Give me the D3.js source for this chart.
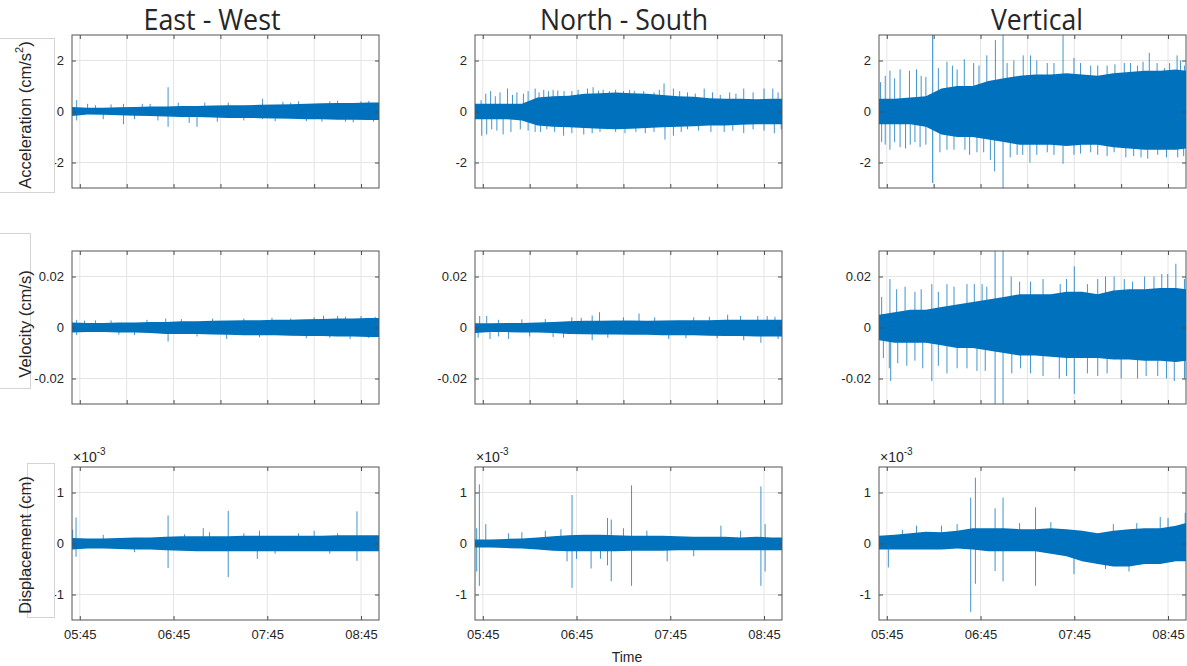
<!DOCTYPE html>
<html>
<head>
<meta charset="utf-8">
<script src="https://cdn.jsdelivr.net/npm/d3@7"></script>
<style>
  body { margin: 0; background: #fff; }
  svg { display: block; }
  text { font-family: "Liberation Sans", Arial, Helvetica, sans-serif; fill: #262626; }
</style>
</head>
<body>
<div id="chart"></div>
<script>
// component titles and row labels
const columnTitles = ["East - West", "North - South", "Vertical"];
const rowLabels = ["Acceleration (cm/s", "Velocity (cm/s)", "Displacement (cm)"];

// time axis (record runs 05:40 -> 08:56:30)
const parseTime = d3.timeParse("%H:%M:%S");
const startTime = parseTime("05:40:00");
const endTime = parseTime("08:56:30");
const gridTimes = ["05:45", "06:15", "06:45", "07:15", "07:45", "08:15", "08:45"];
const labelTimes = ["05:45", "06:45", "07:45", "08:45"];

// envelope sample times, minutes after 05:40
const sampleMinutes = [0, 10, 20, 30, 40, 50, 60, 70, 80, 90, 100, 110, 120, 130, 140, 150, 160, 170, 180, 190, 196.5];

// Acceleration (cm/s^2) - dense band envelope
const ewAccUpper = [0.18, 0.15, 0.15, 0.17, 0.18, 0.2, 0.2, 0.22, 0.22, 0.24, 0.25, 0.25, 0.26, 0.27, 0.28, 0.3, 0.32, 0.33, 0.33, 0.35, 0.35];
const ewAccLower = [-0.18, -0.12, -0.13, -0.15, -0.17, -0.18, -0.2, -0.22, -0.22, -0.24, -0.25, -0.25, -0.26, -0.27, -0.28, -0.3, -0.3, -0.32, -0.32, -0.33, -0.33];
const nsAccUpper = [0.3, 0.3, 0.3, 0.3, 0.55, 0.6, 0.62, 0.7, 0.72, 0.75, 0.72, 0.7, 0.65, 0.6, 0.58, 0.52, 0.5, 0.5, 0.48, 0.5, 0.5];
const nsAccLower = [-0.3, -0.3, -0.3, -0.35, -0.55, -0.6, -0.62, -0.65, -0.68, -0.7, -0.68, -0.65, -0.62, -0.6, -0.58, -0.55, -0.55, -0.52, -0.5, -0.5, -0.5];
const vAccUpper = [0.5, 0.5, 0.55, 0.6, 0.9, 1.0, 1.0, 1.2, 1.3, 1.4, 1.45, 1.45, 1.5, 1.45, 1.4, 1.5, 1.55, 1.6, 1.6, 1.65, 1.6];
const vAccLower = [-0.5, -0.5, -0.5, -0.6, -0.9, -1.0, -1.0, -1.1, -1.2, -1.3, -1.3, -1.3, -1.35, -1.3, -1.3, -1.4, -1.45, -1.5, -1.5, -1.5, -1.45];

// Velocity (cm/s)
const ewVelUpper = [0.002, 0.0018, 0.0018, 0.002, 0.002, 0.0022, 0.0022, 0.0025, 0.0025, 0.0026, 0.0027, 0.0028, 0.0028, 0.003, 0.003, 0.0032, 0.0033, 0.0035, 0.0035, 0.0037, 0.0037];
const ewVelLower = [-0.002, -0.0018, -0.0018, -0.002, -0.002, -0.0022, -0.0025, -0.0025, -0.0025, -0.0027, -0.0028, -0.003, -0.003, -0.003, -0.0032, -0.0033, -0.0033, -0.0035, -0.0035, -0.0037, -0.0037];
const nsVelUpper = [0.0017, 0.0017, 0.0018, 0.0018, 0.002, 0.0022, 0.0025, 0.0026, 0.0026, 0.0027, 0.0027, 0.0026, 0.0027, 0.0028, 0.0028, 0.0028, 0.003, 0.003, 0.003, 0.003, 0.003];
const nsVelLower = [-0.0022, -0.0018, -0.0018, -0.002, -0.002, -0.0022, -0.0025, -0.0026, -0.0027, -0.0027, -0.0028, -0.0028, -0.003, -0.003, -0.003, -0.0032, -0.0033, -0.0033, -0.0035, -0.0035, -0.0035];
const vVelUpper = [0.005, 0.006, 0.007, 0.007, 0.008, 0.009, 0.01, 0.011, 0.012, 0.013, 0.013, 0.013, 0.014, 0.014, 0.013, 0.0145, 0.015, 0.015, 0.0155, 0.0155, 0.015];
const vVelLower = [-0.005, -0.006, -0.006, -0.006, -0.007, -0.008, -0.008, -0.009, -0.01, -0.011, -0.011, -0.0115, -0.012, -0.012, -0.012, -0.0125, -0.0125, -0.013, -0.013, -0.0135, -0.013];

// Displacement, in units of 1e-3 cm
const ewDispUpper = [0.11, 0.1, 0.1, 0.11, 0.12, 0.12, 0.13, 0.14, 0.14, 0.14, 0.14, 0.15, 0.15, 0.15, 0.15, 0.15, 0.15, 0.16, 0.16, 0.16, 0.16];
const ewDispLower = [-0.12, -0.1, -0.1, -0.11, -0.12, -0.12, -0.13, -0.14, -0.15, -0.15, -0.15, -0.15, -0.15, -0.15, -0.15, -0.15, -0.15, -0.15, -0.15, -0.15, -0.15];
const nsDispUpper = [0.08, 0.08, 0.09, 0.1, 0.12, 0.14, 0.16, 0.17, 0.17, 0.16, 0.15, 0.15, 0.15, 0.14, 0.13, 0.13, 0.13, 0.12, 0.13, 0.12, 0.12];
const nsDispLower = [-0.08, -0.08, -0.09, -0.1, -0.12, -0.14, -0.15, -0.15, -0.15, -0.15, -0.14, -0.14, -0.14, -0.13, -0.13, -0.13, -0.13, -0.13, -0.13, -0.13, -0.13];
const vDispUpper = [0.15, 0.17, 0.2, 0.23, 0.22, 0.25, 0.3, 0.3, 0.3, 0.28, 0.28, 0.3, 0.28, 0.25, 0.2, 0.25, 0.28, 0.3, 0.3, 0.35, 0.4];
const vDispLower = [-0.12, -0.12, -0.12, -0.12, -0.12, -0.1, -0.12, -0.15, -0.15, -0.15, -0.15, -0.2, -0.25, -0.35, -0.4, -0.45, -0.45, -0.4, -0.4, -0.35, -0.35];

// spikes beyond the band: [minutes after 05:40, peak value]
const ewAccSpikes = [[3, 0.45], [3, -0.35], [10, 0.3], [15, 0.25], [20, -0.3], [25, 0.28], [33, -0.5], [33, 0.3], [40, -0.3], [45, 0.3], [50, 0.3], [55, -0.35], [61.5, 0.95], [61.5, -0.6], [68, 0.35], [75, -0.45], [80, -0.6], [85, 0.35], [93, -0.4], [100, 0.35], [110, -0.35], [122, 0.5], [122, -0.3], [130, -0.38], [135, 0.38], [140, 0.35], [145, 0.4], [150, -0.38], [160, -0.4], [165, 0.4], [170, 0.42], [175, -0.4], [180, -0.42], [185, 0.4], [190, 0.42], [193, -0.4]];
const nsAccSpikes = [[3.9, 0.45], [6.9, 0.7], [10, 0.8], [13, 0.6], [16, 0.75], [20.8, 0.9], [24, 0.65], [26.8, 0.75], [31, 0.7], [34, 0.8], [38.5, 0.9], [41, 0.75], [44, 0.85], [47, 0.8], [50, 0.85], [53, 0.82], [57, 0.8], [62, 0.8], [66, 0.85], [72, 0.9], [75.6, 0.95], [79, 0.82], [82, 0.85], [86, 0.8], [90, 0.85], [95, 0.8], [99, 0.85], [102, 0.8], [108, 0.8], [114.6, 0.75], [118, 0.85], [121, 1.1], [127, 0.9], [131, 0.8], [136, 0.75], [141, 0.7], [146.7, 0.9], [152, 0.75], [157, 0.65], [163, 0.75], [167, 0.7], [172, 0.9], [178, 0.75], [185, 0.9], [190.6, 0.9], [194, 0.75],
  [4.3, -0.95], [7.5, -0.9], [10.7, -0.7], [14, -0.75], [18, -0.9], [23, -0.8], [29, -0.7], [34, -0.75], [38.5, -0.8], [42, -0.8], [46, -0.7], [51, -0.8], [56.7, -0.95], [62, -0.85], [69.6, -0.9], [75, -0.85], [80, -0.8], [84.6, -0.7], [90, -0.8], [96, -0.85], [103, -0.8], [109, -0.85], [114.6, -0.8], [121.6, -1.1], [127, -0.95], [132, -0.8], [136, -0.7], [143, -0.75], [151, -0.8], [159.5, -0.8], [165, -0.75], [172, -0.85], [178, -0.7], [185, -0.75], [191.6, -0.85], [196, -0.7]];
const vAccSpikes = [[1, 1.15], [4, 1.4], [7, 1.6], [10, 1.3], [13.5, 1.65], [19.5, 1.6], [24, 1.65], [27, 1.4], [30, 1.35], [34.3, 3.3], [38, 1.7], [43.5, 1.95], [47, 1.8], [50, 1.65], [54.6, 2.05], [60.6, 1.9], [64, 1.8], [69, 2.2], [74.5, 2.8], [79.4, 3.3], [82, 1.9], [86.3, 2.0], [92.3, 2.2], [97, 2.2], [101, 2.0], [107.7, 1.9], [112, 1.9], [117.8, 3.3], [124.8, 2.1], [129, 1.9], [135.5, 1.8], [140, 1.8], [146, 1.8], [151, 1.85], [157, 1.9], [161, 1.9], [165.5, 1.8], [169, 1.95], [173, 2.3], [178, 1.9], [182.7, 1.7], [186, 1.9], [190.8, 2.2], [193, 2.0], [195.5, 1.8],
  [1.7, -1.2], [4, -1.3], [7, -1.5], [10, -1.2], [13.5, -1.4], [17, -1.45], [20, -1.3], [23, -1.2], [26.3, -1.4], [30, -1.3], [34.3, -2.8], [39, -1.6], [43.5, -1.5], [48, -1.5], [55, -1.5], [58, -1.7], [62.7, -1.6], [67, -1.6], [71.3, -1.9], [74, -2.35], [79.4, -3.3], [84, -1.8], [88.4, -1.7], [92, -1.7], [96.6, -2.0], [101, -1.7], [107.7, -1.6], [112, -1.7], [117.8, -2.05], [124.8, -1.7], [129, -1.65], [135.5, -1.6], [140, -1.7], [146, -1.75], [150.5, -1.6], [158, -1.8], [163, -1.75], [167.7, -1.8], [172, -1.85], [178.4, -1.7], [184, -1.8], [191.2, -1.8], [195, -1.75]];
const ewVelSpikes = [[3, 0.003], [3, -0.003], [8, 0.0027], [15, 0.0028], [25, 0.0028], [30, -0.0028], [40, -0.003], [48, 0.003], [60, 0.0035], [61.5, -0.0055], [70, 0.0033], [80, -0.0035], [90, 0.0035], [99, -0.0045], [110, 0.0035], [120, -0.0038], [128, 0.0038], [140, 0.0035], [150, -0.0042], [155, 0.004], [161, 0.0046], [165, -0.004], [170, 0.0045], [175, 0.0042], [178, -0.0045], [185, 0.0045], [190, -0.0042], [194, 0.0042]];
const nsVelSpikes = [[3, 0.0045], [7.5, 0.0045], [15, 0.003], [30, 0.0032], [45, 0.0033], [62, 0.004], [68, 0.0038], [75, 0.0047], [79.7, 0.006], [95, 0.004], [105, 0.0055], [115, 0.004], [140, 0.004], [150, 0.0042], [161.7, 0.005], [170, 0.0045], [181, 0.0045], [187, 0.0045], [192, 0.0042],
  [2, -0.004], [9.6, -0.0045], [15, -0.0035], [21.4, -0.0045], [35, -0.0035], [50, -0.0037], [56.7, -0.004], [75, -0.005], [85, -0.004], [124, -0.0045], [135, -0.0042], [155, -0.0042], [172, -0.005], [183, -0.006], [194, -0.0045]];
const vVelSpikes = [[1.7, 0.012], [7, 0.019], [11.3, 0.015], [16.7, 0.016], [23, 0.014], [27, 0.015], [33.8, 0.017], [38, 0.014], [43.5, 0.017], [48, 0.016], [56.3, 0.017], [61, 0.017], [66, 0.017], [69, 0.016], [74.3, 0.035], [79.4, 0.035], [84.6, 0.02], [90, 0.018], [97, 0.018], [105, 0.019], [116, 0.017], [120, 0.019], [125, 0.024], [133.4, 0.017], [140, 0.019], [145, 0.02], [150.5, 0.02], [157, 0.019], [162.3, 0.018], [170, 0.02], [176, 0.02], [181, 0.021], [184.8, 0.021], [190, 0.025], [195.5, 0.019],
  [2.8, -0.012], [6.6, -0.016], [7.5, -0.021], [12, -0.014], [17.8, -0.015], [23, -0.013], [28, -0.016], [33.8, -0.021], [38, -0.015], [43.5, -0.018], [50, -0.016], [56.3, -0.016], [62.7, -0.017], [68, -0.017], [74.3, -0.035], [79.4, -0.035], [85, -0.018], [90.6, -0.016], [97, -0.018], [105, -0.019], [115.4, -0.02], [120, -0.019], [125, -0.026], [133.4, -0.018], [140, -0.019], [146, -0.018], [155, -0.02], [165.5, -0.02], [171, -0.019], [178.4, -0.019], [184, -0.02], [189, -0.021], [195.5, -0.02]];
const ewDispSpikes = [[0.4, 0.27], [2.6, 0.51], [2.6, -0.26], [20, 0.17], [40, -0.17], [61.5, 0.55], [61.5, -0.48], [72, 0.18], [84, 0.3], [88, 0.22], [100, 0.64], [100, -0.66], [110, 0.2], [118.6, -0.3], [120, 0.25], [130, -0.2], [145, 0.2], [155, 0.25], [165, -0.2], [170, 0.2], [182.4, 0.63], [182.4, -0.34]];
const nsDispSpikes = [[1.1, 0.3], [1.1, -0.55], [2.8, 1.16], [2.8, -0.83], [6.9, 0.38], [21.4, 0.2], [30, 0.22], [45, 0.25], [55, 0.28], [58.9, -0.35], [62.1, 0.95], [62.1, -0.87], [65, -0.3], [74.3, -0.49], [80.3, -0.3], [84.8, 0.5], [84.8, -0.43], [87.2, 0.47], [87.2, -0.74], [95, 0.3], [100.2, 1.14], [100.2, -0.83], [110, 0.25], [123, -0.35], [140, -0.25], [157.4, 0.35], [170, 0.25], [183, 1.12], [183, -0.83], [185.7, 0.38], [185.7, -0.55]];
const vDispSpikes = [[6, -0.47], [15, 0.27], [24, 0.35], [40, 0.35], [50, 0.38], [58.7, 0.9], [58.7, -1.34], [61.7, 1.29], [61.7, -0.79], [74.3, 0.69], [74.3, -0.54], [79.4, 0.9], [79.4, -0.74], [90, 0.4], [100.2, 0.71], [100.2, -0.83], [110, 0.42], [124.8, -0.6], [145, -0.5], [150, 0.38], [160, -0.55], [165, 0.4], [180, 0.52], [185, 0.5], [196, 0.6]];

// y axes per row
const rowDomains = [[-3, 3], [-0.03, 0.03], [-1.5, 1.5]];
const rowTicks = [[-2, 0, 2], [-0.02, 0, 0.02], [-1, 0, 1]];

// layout
const W = 1187, H = 666;
const colLeft = [72, 475, 879];
const rowTop = [35, 251, 467];
const panelW = 307, panelH = 153;
const blue = "#0072BD";

const panels = [
  { row: 0, col: 0, upper: ewAccUpper, lower: ewAccLower, spikes: ewAccSpikes },
  { row: 0, col: 1, upper: nsAccUpper, lower: nsAccLower, spikes: nsAccSpikes },
  { row: 0, col: 2, upper: vAccUpper, lower: vAccLower, spikes: vAccSpikes },
  { row: 1, col: 0, upper: ewVelUpper, lower: ewVelLower, spikes: ewVelSpikes },
  { row: 1, col: 1, upper: nsVelUpper, lower: nsVelLower, spikes: nsVelSpikes },
  { row: 1, col: 2, upper: vVelUpper, lower: vVelLower, spikes: vVelSpikes },
  { row: 2, col: 0, upper: ewDispUpper, lower: ewDispLower, spikes: ewDispSpikes },
  { row: 2, col: 1, upper: nsDispUpper, lower: nsDispLower, spikes: nsDispSpikes },
  { row: 2, col: 2, upper: vDispUpper, lower: vDispLower, spikes: vDispSpikes }
];

const svg = d3.select("#chart").append("svg")
  .attr("width", W)
  .attr("height", H);

const at = m => new Date(+startTime + m * 60000);
const hm = d3.timeParse("%H:%M");

const x = d3.scaleTime().domain([startTime, endTime]).range([0, panelW]);

panels.forEach((p, k) => {
  const y = d3.scaleLinear().domain(rowDomains[p.row]).range([panelH, 0]);
  const g = svg.append("g")
    .attr("transform", `translate(${colLeft[p.col]},${rowTop[p.row]})`);

  const xGrid = (p.row < 2 ? gridTimes : labelTimes).map(t => hm(t));

  // grid
  g.append("g").selectAll("line").data(xGrid).join("line")
    .attr("x1", d => x(d)).attr("x2", d => x(d))
    .attr("y1", 0).attr("y2", panelH)
    .attr("stroke", "#e4e4e4");
  g.append("g").selectAll("line").data(rowTicks[p.row]).join("line")
    .attr("x1", 0).attr("x2", panelW)
    .attr("y1", d => y(d)).attr("y2", d => y(d))
    .attr("stroke", "#e4e4e4");

  // signal, clipped to the axes box
  g.append("clipPath").attr("id", "clip" + k)
    .append("rect").attr("width", panelW).attr("height", panelH);
  const plot = g.append("g").attr("clip-path", `url(#clip${k})`);

  plot.selectAll("line.spike").data(p.spikes).join("line")
    .attr("class", "spike")
    .attr("x1", d => x(at(d[0]))).attr("x2", d => x(at(d[0])))
    .attr("y1", y(0)).attr("y2", d => y(d[1]))
    .attr("stroke", blue)
    .attr("stroke-opacity", 0.75)
    .attr("stroke-width", 1);

  const area = d3.area()
    .x(i => x(at(sampleMinutes[i])))
    .y0(i => y(p.lower[i]))
    .y1(i => y(p.upper[i]));
  plot.append("path")
    .datum(d3.range(sampleMinutes.length))
    .attr("d", area)
    .attr("fill", blue);

  // inward ticks on all four sides
  const tl = 4;
  g.append("g").call(d3.axisLeft(y).tickValues(rowTicks[p.row]).tickSize(-tl).tickPadding(8).tickFormat(d => String(d)))
    .call(a => a.select(".domain").remove())
    .call(a => a.selectAll("line").attr("stroke", "#4d4d4d"))
    .call(a => a.selectAll("text").attr("font-size", 13).attr("fill", "#262626").style("font-family", "Liberation Sans, Arial, sans-serif"));
  g.append("g").attr("transform", `translate(${panelW},0)`)
    .call(d3.axisRight(y).tickValues(rowTicks[p.row]).tickSize(-tl).tickFormat(""))
    .call(a => a.select(".domain").remove())
    .call(a => a.selectAll("line").attr("stroke", "#4d4d4d"));
  g.append("g")
    .call(d3.axisTop(x).tickValues(xGrid).tickSize(-tl).tickFormat(""))
    .call(a => a.select(".domain").remove())
    .call(a => a.selectAll("line").attr("stroke", "#4d4d4d"));
  g.append("g").attr("transform", `translate(0,${panelH})`)
    .call(d3.axisBottom(x).tickValues(xGrid).tickSize(-tl).tickPadding(10)
      .tickFormat(p.row === 2 ? d3.timeFormat("%H:%M") : ""))
    .call(a => a.select(".domain").remove())
    .call(a => a.selectAll("line").attr("stroke", "#4d4d4d"))
    .call(a => a.selectAll("text").attr("font-size", 13).attr("fill", "#262626").style("font-family", "Liberation Sans, Arial, sans-serif"));

  // axes box
  g.append("rect")
    .attr("width", panelW).attr("height", panelH)
    .attr("fill", "none")
    .attr("stroke", "#555")
    .attr("stroke-width", 1);

  // exponent label on displacement axes
  if (p.row === 2) {
    const ex = g.append("text")
      .attr("x", 1).attr("y", -5)
      .attr("font-size", 14);
    ex.append("tspan").text("\u00d710");
    ex.append("tspan").attr("dy", -7).attr("font-size", 10).text("-3");
  }
});

// column titles
const titleX = [212, 624, 1037];
const titleW = [137, 168, 92];
columnTitles.forEach((t, i) => {
  svg.append("text")
    .attr("x", titleX[i] - titleW[i] / 2)
    .attr("y", 30)
    .attr("textLength", titleW[i])
    .attr("lengthAdjust", "spacingAndGlyphs")
    .style("font-family", "'Open Sans', sans-serif")
    .attr("font-size", 29)
    .attr("fill", "#000")
    .text(t);
});

// row label boxes (light frames behind the labels)
const labelBoxes = [[-1, 38, 55, 154], [-1, 233, 31, 155], [27, 463, 27, 154]];
labelBoxes.forEach(b => {
  svg.append("rect")
    .attr("x", b[0] + 0.5).attr("y", b[1] + 0.5)
    .attr("width", b[2]).attr("height", b[3])
    .attr("fill", "#fff")
    .attr("stroke", "#d4d4d4");
});

const labelY = [115, 324, 545];
rowLabels.forEach((t, i) => {
  const lab = svg.append("text")
    .attr("transform", `translate(25,${labelY[i]}) rotate(-90)`)
    .attr("text-anchor", "middle")
    .attr("dominant-baseline", "central")
    .attr("font-size", 16.5)
    .text(t);
  if (i === 0) {
    lab.append("tspan").attr("dy", -6).attr("font-size", 11).text("2");
    lab.append("tspan").attr("dy", 6).text(")");
  }
});

// x axis title
svg.append("text")
  .attr("x", 627).attr("y", 662)
  .attr("text-anchor", "middle")
  .attr("font-size", 14)
  .text("Time");
</script>
</body>
</html>
